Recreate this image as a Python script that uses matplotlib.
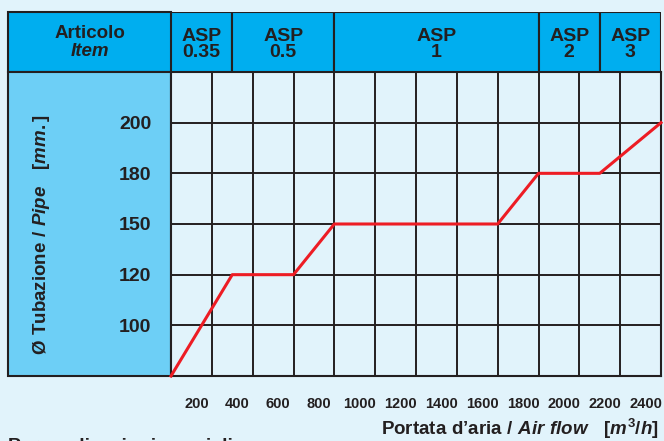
import matplotlib
matplotlib.use("Agg")
import matplotlib.pyplot as plt
from matplotlib import font_manager
from matplotlib.patches import Rectangle
from matplotlib.transforms import ScaledTranslation

# data
flow_ticks = [200, 400, 600, 800, 1000, 1200, 1400, 1600, 1800, 2000, 2200, 2400]
pipe_ticks = [100, 120, 150, 180, 200]
pipe_levels = [80, 100, 120, 150, 180, 200]  # 80 = bottom edge row
curve_flow = [0, 300, 600, 800, 1600, 1800, 2100, 2400]
curve_pipe = [80, 120, 120, 150, 150, 180, 180, 200]
models = ["ASP\n0.35", "ASP\n0.5", "ASP\n1", "ASP\n2", "ASP\n3"]
model_edges = [0, 300, 800, 1800, 2100, 2400]

BG = "#e1f3fb"
HEAD = "#00aeef"
SIDE = "#6dcff6"
DARK = "#231f20"
RED = "#ed1c24"

names = {f.name for f in font_manager.fontManager.ttflist}
if "Liberation Sans Narrow" in names:
    FONT = "Liberation Sans Narrow"
    k = 1.15
else:
    FONT = "Liberation Sans"
    k = 1.0

plt.rcParams["mathtext.fontset"] = "custom"
plt.rcParams["mathtext.rm"] = FONT + ":bold"
plt.rcParams["mathtext.it"] = FONT + ":italic:bold"
plt.rcParams["mathtext.bf"] = FONT + ":bold"

W, H = 664, 441
fig = plt.figure(figsize=(W / 100, H / 100), dpi=100, facecolor=BG)


def fx(px):
    return px / W


def fy(py):
    return 1 - py / H


left, right, top, head_bot, bot = 8, 661, 12, 72, 376

# left panel (header cell + body)
fig.patches.append(Rectangle((fx(left), fy(head_bot)), fx(171) - fx(left), fy(top) - fy(head_bot),
                             transform=fig.transFigure, facecolor=HEAD, edgecolor=DARK, lw=1.5, zorder=-1))
fig.patches.append(Rectangle((fx(left), fy(bot)), fx(171) - fx(left), fy(head_bot) - fy(bot),
                             transform=fig.transFigure, facecolor=SIDE, edgecolor=DARK, lw=1.5, zorder=-1))

# main grid
ax = fig.add_axes([fx(171), fy(bot), fx(right) - fx(171), fy(head_bot) - fy(bot)])
ax.set_facecolor(BG)
ax.set_xlim(0, 2400)
ax.set_ylim(0, len(pipe_levels))
for x in range(0, 2401, 200):
    ax.axvline(x, color=DARK, lw=1.4, zorder=1)
for i in range(len(pipe_levels) + 1):
    ax.axhline(i, color=DARK, lw=1.4, zorder=1)
ypos = [pipe_levels.index(v) for v in curve_pipe]
ax.plot(curve_flow, ypos, color=RED, lw=2.2, zorder=3, clip_on=False)
for s in ax.spines.values():
    s.set_color(DARK)
    s.set_linewidth(1.5)

ax.set_yticks([pipe_levels.index(v) for v in pipe_ticks], [str(v) for v in pipe_ticks])
ax.set_xticks([v - 100 for v in flow_ticks], [str(v) for v in flow_ticks])
ax.tick_params(axis="both", length=0, colors=DARK)
ax.tick_params(axis="y", pad=14)
ax.tick_params(axis="x", pad=15)
for lab in ax.get_yticklabels():
    lab.set_fontfamily(FONT)
    lab.set_fontweight("bold")
    lab.set_fontsize(14 * k)
for lab in ax.get_xticklabels():
    lab.set_fontfamily(FONT)
    lab.set_fontweight("bold")
    lab.set_fontsize(10.5 * k)
    lab.set_transform(lab.get_transform() + ScaledTranslation(0.05, 0, fig.dpi_scale_trans))

# header
hx = fig.add_axes([fx(171), fy(head_bot), fx(right) - fx(171), fy(top) - fy(head_bot)])
hx.set_xlim(0, 2400)
hx.set_ylim(0, 1)
hx.set_axis_off()
for name, a, b in zip(models, model_edges[:-1], model_edges[1:]):
    hx.add_patch(Rectangle((a, 0), b - a, 1, facecolor=HEAD, edgecolor=DARK, lw=1.5))
    hx.text((a + b) / 2, 0.46, name, ha="center", va="center", fontsize=14 * k,
            fontweight="bold", family=FONT, color=DARK, linespacing=0.95)

fig.text(fx(90), fy(34), "Articolo", ha="center", va="center", fontsize=13.5 * k,
         fontweight="bold", family=FONT, color=DARK)
fig.text(fx(90), fy(52), "Item", ha="center", va="center", fontsize=13.5 * k,
         fontweight="bold", style="italic", family=FONT, color=DARK)

# rotated y title
fig.text(fx(42), fy(235), r"$\mathrm{Ø\ Tubazione\ /\ }\mathit{Pipe\ \ \ [mm.]}$", rotation=90,
         ha="center", va="center", fontsize=13.5 * k, color=DARK)

# x title
fig.text(fx(659), fy(429), "$\\mathrm{Portata\\ d\u2019aria\\ /\\ }\\mathit{Air\\ flow\\ \\ \\ [m^3/h]}$",
         ha="right", va="center", fontsize=13.5 * k, color=DARK)

# footnote, cut by the bottom edge as in the source
fig.text(fx(8), fy(438), "Per applicazioni speciali", ha="left", va="top", fontsize=14 * k,
         family=FONT, fontweight="bold", color=DARK)

fig.savefig("out.png", dpi=100, facecolor=BG)
